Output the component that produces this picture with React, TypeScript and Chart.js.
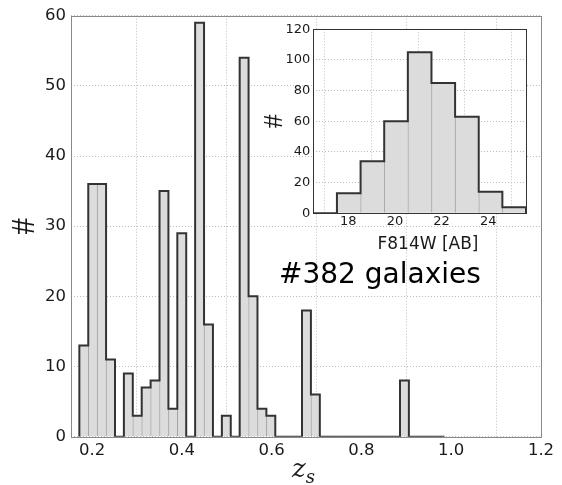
import React, { useEffect, useRef } from 'react';
import { Chart, registerables } from 'chart.js';

Chart.register(...registerables);

// Main histogram: redshift z_s
const zBinStart = 0.1716;
const zBinWidth = 0.01984;
const zCounts = [
  13, 36, 36, 11, 0, 9, 3, 7, 8, 35, 4, 29, 0, 59, 16, 0, 3, 0, 54, 20, 4, 3, 0, 0, 0,
  18, 6, 0, 0, 0, 0, 0, 0, 0, 0, 0, 8, 0, 0, 0, 0,
];
const zTicks = [0.2, 0.4, 0.6, 0.8, 1.0, 1.2];
const zCountTicks = [0, 10, 20, 30, 40, 50, 60];

// Inset histogram: F814W magnitude
const magBinStart = 16.5;
const magBinWidth = 1.0133;
const magCounts = [0, 13, 34, 60, 105, 85, 63, 14, 4];
const magTicks = [18, 20, 22, 24];
const magCountTicks = [0, 20, 40, 60, 80, 100, 120];

const annotationText = '#382 galaxies';
const insetXLabel = 'F814W [AB]';

function barPoints(start: number, width: number, counts: number[]) {
  return counts.map((c, i) => ({ x: start + (i + 0.5) * width, y: c }));
}

function outlinePoints(start: number, width: number, counts: number[]) {
  const pts = [{ x: start, y: 0 }];
  counts.forEach((c, i) => pts.push({ x: start + i * width, y: c }));
  pts.push({ x: start + counts.length * width, y: 0 });
  return pts;
}

const FILL = '#dcdcdc';
const DIVIDER = '#a3a3a3';
const OUTLINE = '#333333';
const GRID = '#bdbdbd';
const TEXT = '#1a1a1a';

function histDatasets(start: number, width: number, counts: number[]) {
  return [
    {
      type: 'bar' as const,
      data: barPoints(start, width, counts),
      backgroundColor: FILL,
      borderColor: DIVIDER,
      borderWidth: { left: 1, right: 0, top: 0, bottom: 0 },
      borderSkipped: false,
      barPercentage: 1,
      categoryPercentage: 1,
      grouped: false,
      order: 2,
    },
    {
      type: 'line' as const,
      data: outlinePoints(start, width, counts),
      borderColor: OUTLINE,
      borderWidth: 2,
      pointRadius: 0,
      fill: false,
      stepped: 'before' as const,
      tension: 0,
      order: 1,
    },
  ];
}

function framePlugin(color: string) {
  return {
    id: 'frame',
    afterDatasetsDraw(chart: any) {
      const { ctx, chartArea: a } = chart;
      ctx.save();
      ctx.strokeStyle = color;
      ctx.lineWidth = 1;
      ctx.strokeRect(Math.round(a.left) + 0.5, Math.round(a.top) + 0.5, Math.round(a.right - a.left), Math.round(a.bottom - a.top));
      ctx.restore();
    },
  };
}

export default function App() {
  const mainRef = useRef<HTMLCanvasElement>(null);
  const insetRef = useRef<HTMLCanvasElement>(null);

  useEffect(() => {
    const mainText = {
      id: 'mainText',
      afterDraw(chart: any) {
        const { ctx } = chart;
        ctx.save();
        ctx.fillStyle = '#000';
        ctx.textBaseline = 'alphabetic';
        ctx.textAlign = 'left';
        ctx.font = '28px "DejaVu Sans"';
        ctx.fillText(annotationText, 279, 283);
        ctx.fillStyle = TEXT;
        ctx.font = 'italic 26px "DejaVu Serif"';
        ctx.fillText('z', 292, 477);
        const zw = ctx.measureText('z').width;
        ctx.font = 'italic 18px "DejaVu Serif"';
        ctx.fillText('s', 292 + zw, 483);
        ctx.restore();
      },
    };

    const main = new Chart(mainRef.current!, {
      type: 'bar',
      data: { datasets: histDatasets(zBinStart, zBinWidth, zCounts) as any },
      options: {
        responsive: false,
        animation: false,
        events: [],
        layout: { padding: { left: 0, right: 21, top: 15.7, bottom: 0 } },
        plugins: { legend: { display: false }, tooltip: { enabled: false } },
        scales: {
          x: {
            type: 'linear',
            min: 0.153,
            max: 1.2,
            offset: false,
            afterBuildTicks: (s: any) => {
              s.ticks = zTicks.map((v) => ({ value: v }));
            },
            afterFit: (s: any) => {
              s.height = 48.3;
            },
            grid: { color: GRID, lineWidth: 1, drawTicks: false },
            border: { display: false, dash: [1, 2] },
            ticks: {
              padding: 4,
              color: TEXT,
              font: { family: 'DejaVu Sans', size: 16.5 },
              maxRotation: 0,
              autoSkip: false,
              callback: (v: any) => Number(v).toFixed(1),
            },
          },
          y: {
            type: 'linear',
            min: 0,
            max: 60,
            afterBuildTicks: (s: any) => {
              s.ticks = zCountTicks.map((v) => ({ value: v }));
            },
            afterFit: (s: any) => {
              s.width = 71;
            },
            grid: { color: GRID, lineWidth: 1, drawTicks: false },
            border: { display: false, dash: [1, 2] },
            ticks: {
              padding: 5,
              color: TEXT,
              font: { family: 'DejaVu Sans', size: 16.5 },
              autoSkip: false,
            },
            title: {
              display: true,
              text: '#',
              color: TEXT,
              font: { family: 'Liberation Serif', size: 33, lineHeight: 1 },
              padding: { top: 8.5, bottom: 0 },
            },
          },
        },
      },
      plugins: [framePlugin('#8a8a8a'), mainText],
    } as any);

    const insetBg = {
      id: 'insetBg',
      beforeDraw(chart: any) {
        const { ctx, chartArea: a } = chart;
        ctx.save();
        ctx.fillStyle = '#fff';
        ctx.fillRect(a.left, a.top, a.right - a.left, a.bottom - a.top);
        ctx.restore();
      },
      afterDraw(chart: any) {
        const { ctx } = chart;
        ctx.save();
        ctx.fillStyle = TEXT;
        ctx.textAlign = 'center';
        ctx.textBaseline = 'alphabetic';
        ctx.font = '17px "DejaVu Sans"';
        ctx.fillText(insetXLabel, 166, 234);
        ctx.restore();
      },
    };

    const inset = new Chart(insetRef.current!, {
      type: 'bar',
      data: { datasets: histDatasets(magBinStart, magBinWidth, magCounts) as any },
      options: {
        responsive: false,
        animation: false,
        events: [],
        layout: { padding: { left: 0, right: 16, top: 14.3, bottom: 0 } },
        plugins: { legend: { display: false }, tooltip: { enabled: false } },
        scales: {
          x: {
            type: 'linear',
            min: magBinStart,
            max: magBinStart + magCounts.length * magBinWidth,
            offset: false,
            afterBuildTicks: (s: any) => {
              s.ticks = magTicks.map((v) => ({ value: v }));
            },
            afterFit: (s: any) => {
              s.height = 46.7;
            },
            grid: { color: GRID, lineWidth: 1, drawTicks: false },
            border: { display: false, dash: [1, 2] },
            ticks: {
              padding: 1,
              color: TEXT,
              font: { family: 'DejaVu Sans', size: 13 },
              maxRotation: 0,
              autoSkip: false,
            },
          },
          y: {
            type: 'linear',
            min: 0,
            max: 120,
            afterBuildTicks: (s: any) => {
              s.ticks = magCountTicks.map((v) => ({ value: v }));
            },
            afterFit: (s: any) => {
              s.width = 51.3;
            },
            grid: { color: GRID, lineWidth: 1, drawTicks: false },
            border: { display: false, dash: [1, 2] },
            ticks: {
              padding: 3,
              color: TEXT,
              font: { family: 'DejaVu Sans', size: 13 },
              autoSkip: false,
            },
            title: {
              display: true,
              text: '#',
              color: TEXT,
              font: { family: 'Liberation Serif', size: 28, lineHeight: 0.8 },
              padding: { top: 1.8, bottom: 0 },
            },
          },
        },
      },
      plugins: [insetBg, framePlugin('#333333')],
    } as any);

    return () => {
      main.destroy();
      inset.destroy();
    };
  }, []);

  return (
    <div style={{ position: 'fixed', left: 0, top: 0, width: 562, height: 485, background: '#fff', overflow: 'hidden' }}>
      <canvas ref={mainRef} width={562} height={485} style={{ position: 'absolute', left: 0, top: 0, display: 'block' }} />
      <canvas ref={insetRef} width={280} height={245} style={{ position: 'absolute', left: 262, top: 15, display: 'block' }} />
    </div>
  );
}
